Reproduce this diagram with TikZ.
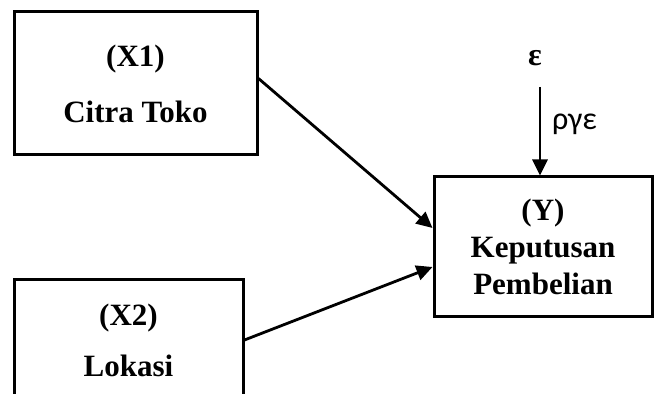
\documentclass[tikz,border=0pt]{standalone}
\usepackage{fontspec}
\setmainfont{Liberation Serif}
\newfontfamily\calfont{Carlito}
\usetikzlibrary{arrows.meta}
\usetikzlibrary{positioning}
\usetikzlibrary{calc}

\begin{document}
\begin{tikzpicture}[x=0.5pt,y=0.5pt,
box_style/.style={draw,line width=1.5pt,align=center,font=\fontsize{15.5}{18.5}\selectfont\bfseries,inner sep=0pt},
arrow_style/.style={line width=1.4pt,-{Triangle[length=8pt,width=7.5pt]}}]

\useasboundingbox (0,0) rectangle (655,394);
\clip (0,0) rectangle (655,394);

\node[box_style,minimum width=121.5pt,minimum height=71.5pt] (x1) at (135.5,310.5) {(X1)\\[9.5pt]Citra Toko};
\node[box_style,minimum width=114.5pt,minimum height=60pt] (x2) at (128.5,54) {(X2)\\[7pt]Lokasi};
\node[box_style,minimum width=109pt,minimum height=70pt] (y) at (543,147) {(Y)\\Keputusan\\Pembelian};

\node[font=\fontsize{16}{18}\selectfont\bfseries] (eps) at (535,336) {ε};
\coordinate (eps_start) at (540,307);

\draw[arrow_style] ([yshift=2.5pt]x1.east) -- ([yshift=9.5pt]y.west);
\draw[arrow_style] (x2.east) -- ([yshift=-10pt]y.west);
\draw[arrow_style] (eps_start) -- node[pos=0.42,right=2pt,font=\calfont\fontsize{16}{18}\selectfont] (rho) {ργε} (eps_start |- y.north);
\end{tikzpicture}
\end{document}
